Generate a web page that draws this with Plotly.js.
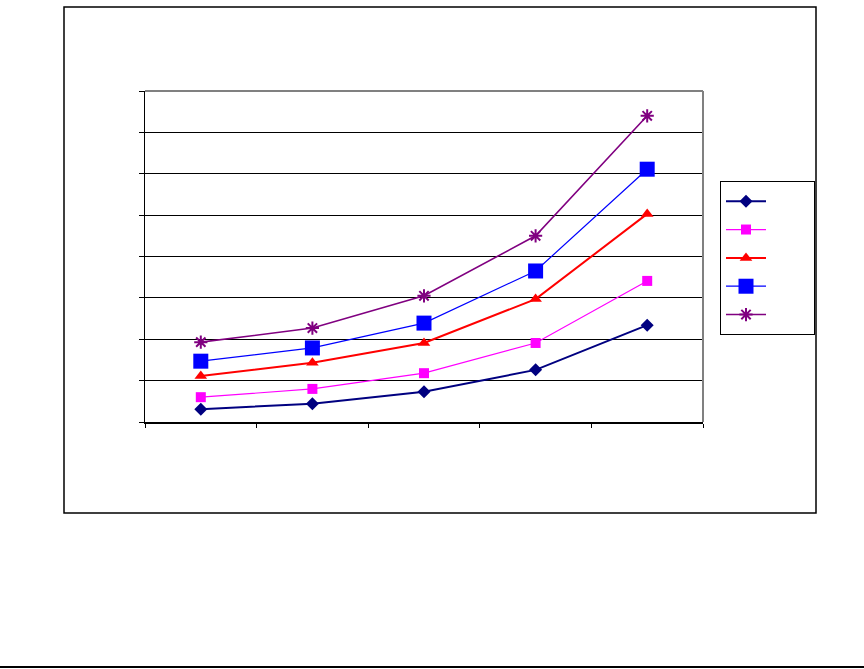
<!DOCTYPE html>
<html>
<head>
<meta charset="utf-8">
<script src="https://cdn.plot.ly/plotly-3.0.1.min.js"></script>
<style>html,body{margin:0;padding:0;background:#fff;}#chart{width:864px;height:669px;}</style>
</head>
<body>
<div id="chart"></div>
<script>
// Data (no text labels are shown in the original)
var categories = ["1", "2", "3", "4", "5"];
var series1 = [0.31, 0.44, 0.73, 1.26, 2.34];
var series2 = [0.60, 0.80, 1.18, 1.91, 3.41];
var series3 = [1.11, 1.43, 1.91, 2.97, 5.03];
var series4 = [1.47, 1.79, 2.39, 3.65, 6.11];
var series5 = [1.93, 2.27, 3.05, 4.50, 7.40];
var seriesNames = ["\u00a0\u00a0\u00a0\u00a0\u00a0\u00a0\u00a0", "\u00a0\u00a0\u00a0\u00a0\u00a0\u00a0\u00a0",
                   "\u00a0\u00a0\u00a0\u00a0\u00a0\u00a0\u00a0", "\u00a0\u00a0\u00a0\u00a0\u00a0\u00a0\u00a0",
                   "\u00a0\u00a0\u00a0\u00a0\u00a0\u00a0\u00a0"];

var traces = [
  {x: categories, y: series1, name: seriesNames[0], type: "scatter", mode: "lines+markers",
   line: {color: "#000080", width: 2}, marker: {symbol: "diamond", size: 10, color: "#000080"}},
  {x: categories, y: series2, name: seriesNames[1], type: "scatter", mode: "lines+markers",
   line: {color: "#FF00FF", width: 1.2}, marker: {symbol: "square", size: 10, color: "#FF00FF"}},
  {x: categories, y: series3, name: seriesNames[2], type: "scatter", mode: "lines+markers",
   line: {color: "#FF0000", width: 2}, marker: {symbol: "triangle-up", size: 11, color: "#FF0000"}},
  {x: categories, y: series4, name: seriesNames[3], type: "scatter", mode: "lines+markers",
   line: {color: "#0000FF", width: 1.2}, marker: {symbol: "square", size: 15, color: "#0000FF"}},
  {x: categories, y: series5, name: seriesNames[4], type: "scatter", mode: "lines+markers",
   line: {color: "#800080", width: 1.6}, marker: {symbol: "asterisk-open", size: 11, color: "#800080", line: {color: "#800080", width: 2}}}
];

var W = 558, H = 331;
function px(x){ return (x - 145) / W; }
function py(y){ return (422 - y) / H; }

var layout = {
  width: 864, height: 669,
  margin: {l: 145, r: 161, t: 91, b: 247, pad: 0},
  paper_bgcolor: "#ffffff", plot_bgcolor: "#ffffff",
  showlegend: true,
  font: {family: "Liberation Sans, Arial, sans-serif", color: "#000"},
  xaxis: {
    type: "category", range: [-0.5, 4.5], tickson: "boundaries",
    showticklabels: false, ticks: "outside", ticklen: 4, tickcolor: "#000", tickwidth: 1,
    showline: true, linecolor: "#000", linewidth: 1.5, showgrid: false, zeroline: false,
    fixedrange: true
  },
  yaxis: {
    range: [0, 8], dtick: 1, tick0: 0, showticklabels: false,
    ticks: "outside", ticklen: 5, tickcolor: "#000", tickwidth: 1,
    showline: true, linecolor: "#000", linewidth: 1.5,
    showgrid: true, gridcolor: "#000", gridwidth: 1, zeroline: false, fixedrange: true
  },
  legend: {
    x: px(720), y: py(181), xanchor: "left", yanchor: "top",
    bordercolor: "#000", borderwidth: 1, bgcolor: "#fff",
    font: {size: 19.5}, itemwidth: 40, traceorder: "normal"
  },
  shapes: [
    // outer chart frame
    {type: "rect", xref: "paper", yref: "paper", x0: px(64), x1: px(816), y0: py(513), y1: py(7),
     line: {color: "#000", width: 1.5}, layer: "below"},
    // plot area gray top and right borders
    {type: "line", xref: "paper", yref: "paper", x0: 0, x1: 1, y0: 1, y1: 1, line: {color: "#808080", width: 2}},
    {type: "line", xref: "paper", yref: "paper", x0: 1, x1: 1, y0: 0, y1: 1, line: {color: "#808080", width: 2}},
    // page bottom rule
    {type: "line", xref: "paper", yref: "paper", x0: px(0), x1: px(864), y0: py(667), y1: py(667), line: {color: "#000", width: 2}}
  ]
};

Plotly.newPlot("chart", traces, layout, {displayModeBar: false, staticPlot: true});
</script>
</body>
</html>
